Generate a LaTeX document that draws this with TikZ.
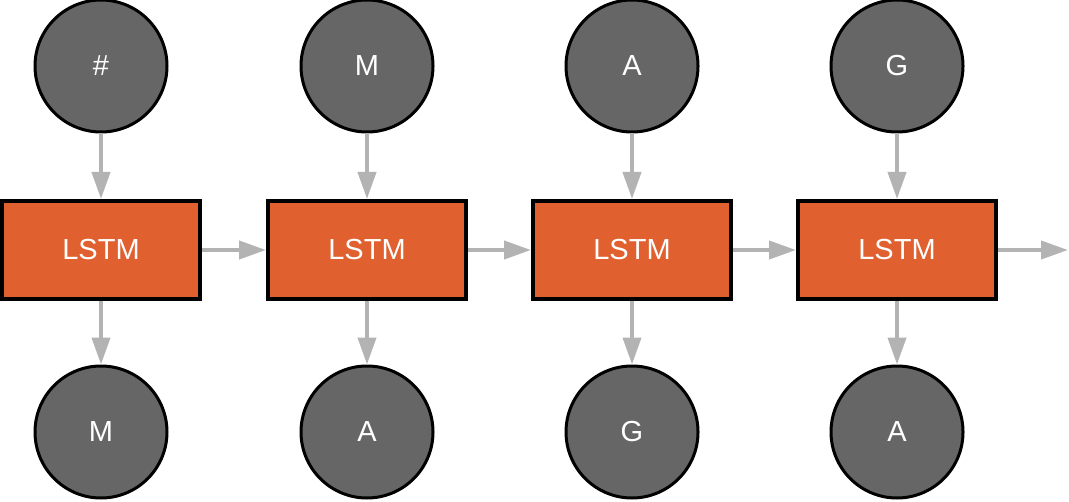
\documentclass[tikz,border=0pt]{standalone}
\usepackage{fontspec}
\setmainfont{Liberation Sans}
\usetikzlibrary{arrows.meta}
\definecolor{tokgray}{HTML}{666666}
\definecolor{lstmorange}{HTML}{E1602F}
\definecolor{arrgray}{HTML}{B3B3B3}
\tikzset{
  token/.style={circle, draw=black, line width=1.5pt, fill=tokgray, text=white,
    minimum size=66pt, inner sep=0pt, font=\fontsize{14.5}{16}\selectfont},
  cell/.style={rectangle, draw=black, line width=2pt, fill=lstmorange, text=white,
    minimum width=99pt, minimum height=49pt, inner sep=0pt, font=\fontsize{14.5}{16}\selectfont},
  flow/.style={draw=arrgray, line width=2pt, -{Triangle[length=13.5pt,width=9pt]}}
}
\begin{document}
\begin{tikzpicture}[x=0.5pt,y=-0.5pt]
  \useasboundingbox (0,0) rectangle (1069,502);
  % inputs
  \node[token] (in1) at (101,66) {\#};
  \node[token] (in2) at (367,66) {M};
  \node[token] (in3) at (632,66) {A};
  \node[token] (in4) at (897,66) {G};
  % cells
  \node[cell] (lstm1) at (101,250) {LSTM};
  \node[cell] (lstm2) at (367,250) {LSTM};
  \node[cell] (lstm3) at (632,250) {LSTM};
  \node[cell] (lstm4) at (897,250) {LSTM};
  % outputs
  \node[token] (out1) at (101,432) {M};
  \node[token] (out2) at (367,432) {A};
  \node[token] (out3) at (632,432) {G};
  \node[token] (out4) at (897,432) {A};
  \coordinate (next) at (1068,250);
  % connections
  \draw[flow] (in1) -- (lstm1);
  \draw[flow] (in2) -- (lstm2);
  \draw[flow] (in3) -- (lstm3);
  \draw[flow] (in4) -- (lstm4);
  \draw[flow] (lstm1) -- (out1);
  \draw[flow] (lstm2) -- (out2);
  \draw[flow] (lstm3) -- (out3);
  \draw[flow] (lstm4) -- (out4);
  \draw[flow] (lstm1) -- (lstm2);
  \draw[flow] (lstm2) -- (lstm3);
  \draw[flow] (lstm3) -- (lstm4);
  \draw[flow] (lstm4) -- (next);
\end{tikzpicture}
\end{document}
